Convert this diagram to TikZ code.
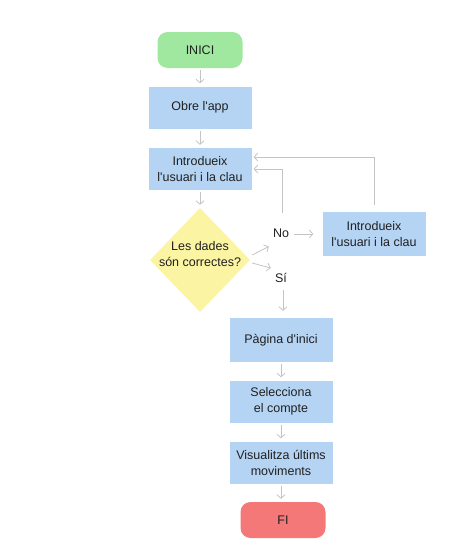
\documentclass[tikz,border=0pt]{standalone}
\usepackage{fontspec}
\setmainfont{Liberation Sans}[Ligatures=TeXOff]
\usetikzlibrary{arrows.meta,shapes.geometric,calc}
\definecolor{boxblue}{HTML}{B5D4F4}
\definecolor{startgreen}{HTML}{A0E8A0}
\definecolor{endred}{HTML}{F47878}
\definecolor{decyellow}{HTML}{FBF4A2}
\definecolor{linegray}{HTML}{C4C4C4}
\definecolor{txt}{HTML}{202020}
\begin{document}
\begin{tikzpicture}[x=1pt,y=-1pt,
  every node/.style={text=txt,font=\fontsize{12.5}{16}\selectfont},
  box/.style={fill=boxblue,minimum width=103pt,minimum height=42pt,align=center,inner sep=1pt},
  term/.style={rounded corners=10pt,minimum width=85pt,minimum height=36pt,inner sep=1pt},
  dec/.style={diamond,fill=decyellow,minimum width=100pt,minimum height=104pt,inner sep=0pt},
  lbl/.style={inner sep=1pt},
  conn/.style={draw=linegray,line width=0.8pt,-{Straight Barb[length=3.5pt,width=8pt]}}
]
\useasboundingbox (0,0) rectangle (474,560);
\node[term,fill=startgreen] (inici) at (200,50) {INICI};
\node[box] (obre) at (200,107.5) {Obre l'app};
\node[box] (intro) at (200,169) {Introdueix\\l'usuari i la clau};
\node[dec] (dec) at (200,260) {};
\node[align=center,inner sep=0pt] (dectext) at (200,254) {Les dades\\són correctes?};
\node[lbl] (no) at (281,233) {No};
\node[lbl] (si) at (281,278) {Sí};
\node[box,minimum height=44pt] (intro2) at (374,234) {Introdueix\\l'usuari i la clau};
\node[box,minimum height=44pt] (pagina) at (281,340) {Pàgina d'inici};
\node[box] (selec) at (281,401.5) {Selecciona\\el compte};
\node[box] (visual) at (281,462.5) {Visualitza últims\\moviments};
\node[term,fill=endred] (fi) at (283,520) {FI};

\draw[conn] ($(inici.south)+(0,2)$) -- ($(obre.north)+(0,-3)$);
\draw[conn] ($(obre.south)+(0,2)$) -- ($(intro.north)+(0,-3)$);
\draw[conn] ($(intro.south)+(0,2)$) -- ($(dec.north)+(0,-3)$);
\draw[conn] ($(dec.east)+(2,-5)$) -- ($(no.south west)+(-3,8)$);
\draw[conn] ($(dec.east)+(2,3)$) -- ($(si.north west)+(-3,-4)$);
\draw[conn] ($(si.south)+(2,6)$) -- ($(pagina.north)+(2,-7)$);
\draw[conn] ($(no.east)+(4,1)$) -- ($(intro2.west)+(-9,0)$);
\draw[conn] ($(intro2.north)+(0,-7)$) |- ($(intro.east)+(2,-12)$);
\draw[conn] ($(no.north)+(1,-14)$) |- ($(intro.east)+(2,0)$);
\draw[conn] ($(pagina.south)+(0,2)$) -- ($(selec.north)+(0,-3)$);
\draw[conn] ($(selec.south)+(0,2)$) -- ($(visual.north)+(0,-3)$);
\draw[conn] ($(visual.south)+(0,2)$) -- ($(fi.north)+(-2,-3)$);
\end{tikzpicture}
\end{document}
